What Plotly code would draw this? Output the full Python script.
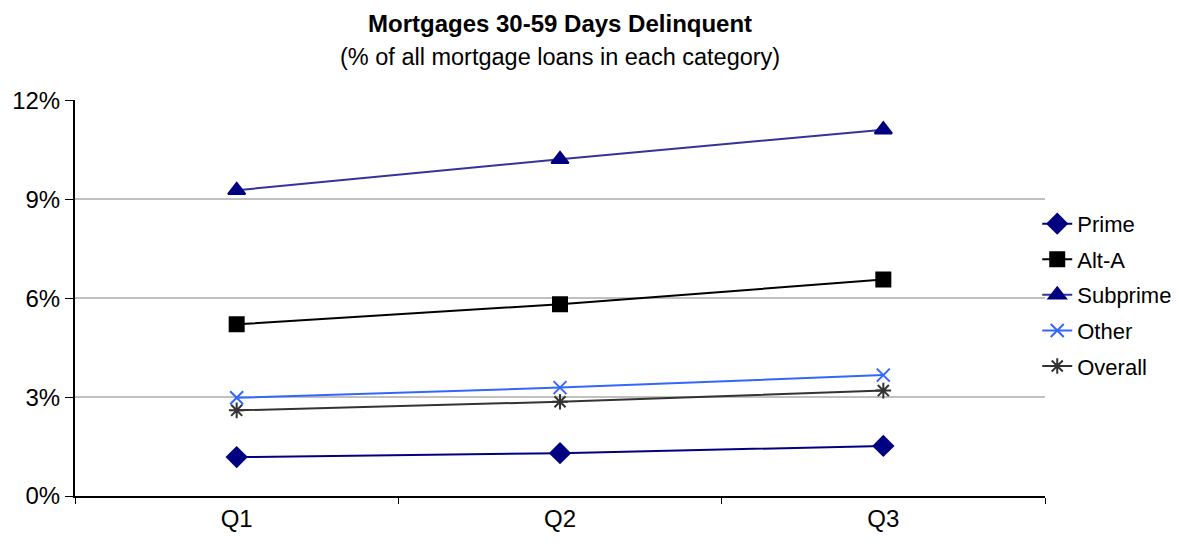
import plotly.graph_objects as go

quarters = ["Q1", "Q2", "Q3"]
prime = [1.18, 1.30, 1.52]
alt_a = [5.21, 5.82, 6.57]
subprime = [9.28, 10.22, 11.12]
other = [2.98, 3.29, 3.67]
overall = [2.60, 2.86, 3.20]
y_ticks = [0, 3, 6, 9, 12]
y_labels = ["0%", "3%", "6%", "9%", "12%"]
title_text = "Mortgages 30-59 Days Delinquent"
subtitle_text = "(% of all mortgage loans in each category)"

series = [
    ("Prime", prime, "#000080", "#000080", "diamond", 15),
    ("Alt-A", alt_a, "#000000", "#000000", "square", 14),
    ("Subprime", subprime, "#333399", "#000080", "triangle-up", 15),
    ("Other", other, "#3366FF", "#3366FF", "x-thin", 13),
    ("Overall", overall, "#333333", "#333333", "asterisk", 13),
]

fig = go.Figure()
for name, vals, lc, mc, sym, sz in series:
    fig.add_trace(go.Scatter(
        x=quarters, y=vals, name=name, mode="lines+markers",
        legendgroup=name,
        line=dict(color=lc, width=2),
        marker=dict(symbol=sym, size=sz, color=mc,
                    line=dict(color=mc, width=2)),
    ))

fig.add_annotation(text="<b>" + title_text + "</b>", xref="paper", yref="paper",
                   x=0.5, y=1.192, xanchor="center", yanchor="middle",
                   showarrow=False, font=dict(size=24))
fig.add_annotation(text=subtitle_text, xref="paper", yref="paper",
                   x=0.5, y=1.109, xanchor="center", yanchor="middle",
                   showarrow=False, font=dict(size=23.5))

fig.update_layout(
    width=1179, height=544,
    paper_bgcolor="white", plot_bgcolor="white",
    font=dict(family="Arial, Liberation Sans, sans-serif", size=22, color="#000000"),
    margin=dict(l=67, r=142, t=92, b=56, autoexpand=False),
    showlegend=True,
    legend=dict(x=0.992, xanchor="left", y=0.508, yanchor="middle",
                font=dict(size=22), tracegroupgap=4,
                bgcolor="rgba(0,0,0,0)"),
    xaxis=dict(
        type="category", range=[-0.5, 2.5], automargin=False,
        showline=True, linecolor="#000000", linewidth=2,
        ticks="outside", tickson="boundaries", ticklen=6, tickcolor="#000000",
        showgrid=False, tickfont=dict(size=24),
    ),
    yaxis=dict(
        range=[0, 12.02], tickvals=y_ticks, ticktext=y_labels, automargin=False,
        showline=True, linecolor="#000000", linewidth=2,
        ticks="outside", ticklen=8, tickcolor="#000000",
        showgrid=True, gridcolor="#C0C0C0", gridwidth=2,
        zeroline=False, tickfont=dict(size=24),
    ),
)

fig.write_html("out.html")
